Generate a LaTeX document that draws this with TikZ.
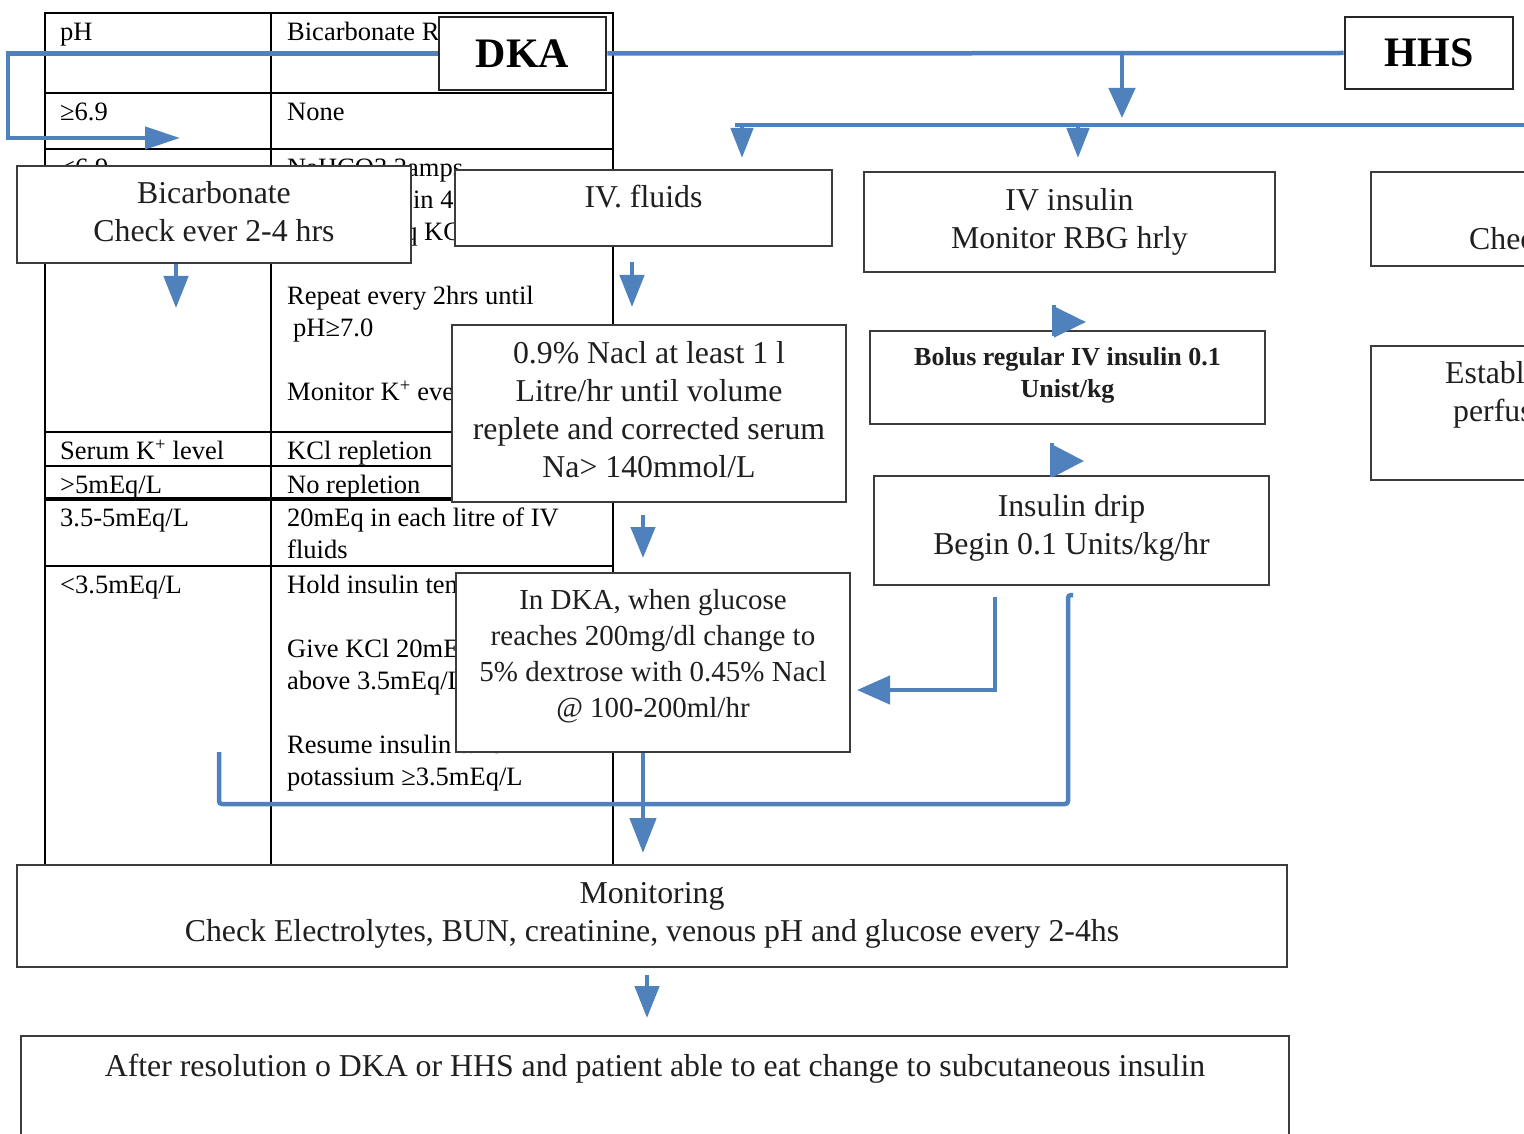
\documentclass[tikz,border=0pt]{standalone}
\usepackage{fontspec}
\setmainfont{Liberation Serif}
\usetikzlibrary{arrows.meta}
\definecolor{flowblue}{RGB}{79,129,189}
\definecolor{boxline}{RGB}{60,60,60}
\newcommand\lowend[1]{\rule[-#1]{0pt}{#1}}
\begin{document}
\begin{tikzpicture}[x=1pt, y=-1pt,
  grid/.style={line width=2.4pt, black},
  cell/.style={anchor=base west, inner sep=0pt, font=\fontsize{26.5}{32}\selectfont},
  box/.style={draw=boxline, line width=2pt, fill=white, inner sep=0pt, align=center,
    text=black!88, font=\fontsize{31.8}{38}\selectfont},
  rtext/.style={anchor=base west, inner sep=0pt, text=black!88, font=\fontsize{31.8}{38}\selectfont},
  title/.style={draw=black!85, line width=2.6pt, fill=white, inner sep=0pt,
    text height=27.8pt, text depth=0pt, font=\bfseries\fontsize{42}{48}\selectfont},
  flow/.style={draw=flowblue, line width=4.5pt},
  arrowhead/.style 2 args={-{Triangle[length=#1,width=#2]}}
]
\useasboundingbox (0,0) rectangle (1524,1134);
\clip (0,0) rectangle (1524,1134);
\fill[white] (0,0) rectangle (1524,1134);

% ---------- table of bicarbonate and potassium replacement ----------
\draw[grid] (45,866) -- (45,13) -- (613,13) -- (613,866);
\draw[grid] (271,13) -- (271,866);
\foreach \y in {93,149,432,466,566} \draw[grid] (45,\y) -- (613,\y);
\draw[grid, line width=3.4pt] (45,499) -- (613,499);

\node[cell] (ph)    at (60,40.5)  {pH};
\node[cell] (bicrep) at (287,40.5) {Bicarbonate Replacement};
\node[cell] (phhi)  at (60,120.5) {≥6.9};
\node[cell] (none)  at (287,120.5) {None};
\node[cell] (phlo)  at (60,176.5) {<6.9};
\node[cell] (na1)   at (287,176.5) {NaHCO3 2amps};
\node[cell] (na2)   at (287,208.5) {(100mmol) in 400ml H2O};
\node[cell] (na3)   at (287,240.5) {with 20mEq KCl};
\node[cell] (rep1)  at (287,304.5) {Repeat every 2hrs until};
\node[cell] (rep2)  at (293,336.5) {pH≥7.0};
\node[cell] (monk)  at (287,400.5) {Monitor K\textsuperscript{+} every 2hrs};
\node[cell] (serum) at (60,459.5)  {Serum K\textsuperscript{+} level};
\node[cell] (kcl)   at (287,459.5) {KCl repletion};
\node[cell] (khi)   at (60,493.5)  {>5mEq/L};
\node[cell] (norep) at (287,493.5) {No repletion};
\node[cell] (kmid)  at (60,526.5)  {3.5-5mEq/L};
\node[cell] (mid1)  at (287,526.5) {20mEq in each litre of IV};
\node[cell] (mid2)  at (287,558.5) {fluids};
\node[cell] (klo)   at (60,593.5)  {<3.5mEq/L};
\node[cell] (lo1)   at (287,593.5) {Hold insulin temporarily};
\node[cell] (lo2)   at (287,657.5) {Give KCl 20mEq/hr until};
\node[cell] (lo3)   at (287,689.5) {above 3.5mEq/L};
\node[cell] (lo4)   at (287,753.5) {Resume insulin when};
\node[cell] (lo5)   at (287,785.5) {potassium ≥3.5mEq/L};

% ---------- flowchart boxes ----------
\node[title, minimum width=167pt, minimum height=73pt] (dka) at (522.5,53.5) {DKA};
\node[title, minimum width=168pt, minimum height=72pt] (hhs) at (1429,53) {HHS};

\node[box, minimum width=394pt, minimum height=97pt] (bic) at (214,214.5)
  {\strut Bicarbonate\\\strut Check ever 2-4 hrs};
\node[box, minimum width=377pt, minimum height=76pt] (ivf) at (643.5,208)
  {\strut IV. fluids\lowend{26.6pt}};
\node[box, minimum width=411pt, minimum height=100pt] (ivins) at (1069.5,222)
  {\strut IV insulin\\\strut Monitor RBG hrly};
\node[box, minimum width=394pt, minimum height=177pt] (nacl) at (649,413.5)
  {\strut 0.9\% Nacl at least 1 l\\\strut Litre/hr until volume\\
   \strut replete and corrected serum\\\strut Na> 140mmol/L\lowend{13.6pt}};
\node[box, minimum width=395pt, minimum height=93pt, font=\bfseries\fontsize{26}{32}\selectfont]
  (bolus) at (1067.5,377.5)
  {\strut Bolus regular IV insulin 0.1\\\strut Unist/kg\lowend{14.2pt}};
\node[box, minimum width=395pt, minimum height=109pt] (drip) at (1071.5,530.5)
  {\strut Insulin drip\\\strut Begin 0.1 Units/kg/hr\lowend{17.6pt}};
\node[box, minimum width=394pt, minimum height=179pt, font=\fontsize{29}{36}\selectfont]
  (glu) at (653,662.5)
  {\strut In DKA, when glucose\\\strut reaches 200mg/dl change to\\
   \strut 5\% dextrose with 0.45\% Nacl\\\strut @ 100-200ml/hr\lowend{23.2pt}};
\node[box, minimum width=1270pt, minimum height=102pt] (mon) at (652,916)
  {\strut Monitoring\\\strut Check Electrolytes, BUN, creatinine, venous pH and glucose every 2-4hs\lowend{14.6pt}};
\node[box, minimum width=1268pt, minimum height=124pt] (after) at (655,1098)
  {\strut After resolution o DKA or HHS and patient able to eat change to subcutaneous insulin\lowend{70.6pt}};

% right-hand column, running past the edge
\node[box, minimum width=229pt, minimum height=94pt] (hhsA) at (1485.5,219) {};
\node[box, minimum width=229pt, minimum height=134pt] (hhsB) at (1485.5,413) {};
\node[rtext] (chk)  at (1469,250) {Check};
\node[rtext] (est)  at (1445,383) {Establish};
\node[rtext] (perf) at (1453,421) {perfusion};

% ---------- connectors ----------
\coordinate (bicin)   at (180,138);
\coordinate (split)   at (1122,53.5);
\coordinate (splitend) at (1122,118);
\coordinate (busL)    at (735,125);
\coordinate (busR)    at (1530,125);
\coordinate (tipF)    at (742,158);
\coordinate (tipI)    at (1078,158);
\coordinate (bicTip)  at (176,308);
\coordinate (ivfOut)  at (632,262);
\coordinate (ivfTip)  at (632,307);
\coordinate (naclOut) at (643,515);
\coordinate (naclTip) at (643,558);
\coordinate (gluTip)  at (643,853);
\coordinate (monOut)  at (647,975);
\coordinate (monTip)  at (647,1018);
\coordinate (bolTop)  at (1054,305);
\coordinate (bolBot)  at (1054,336);
\coordinate (bolMid)  at (1054,322);
\coordinate (bolTip)  at (1086,322);
\coordinate (drTop)   at (1052,443);
\coordinate (drBot)   at (1052,477);
\coordinate (drMid)   at (1052,461);
\coordinate (drTip)   at (1084,461);
\coordinate (dripA)   at (995,597);
\coordinate (gluIn)   at (857,690);
\coordinate (dripB)   at (1068,595);
\coordinate (kEnd)    at (219,752);

\draw[flow, arrowhead={35pt}{22pt}] (dka.west) -- (8,53.5) -- (8,138) -- (bicin);
\draw[flow] (dka.east) -- (hhs.west);
\draw[flow, arrowhead={30pt}{26pt}] (split) -- (splitend);
\draw[flow] (busL) -- (busR);
\draw[flow, arrowhead={30pt}{22pt}] (tipF |- busL) -- (tipF);
\draw[flow, arrowhead={30pt}{22pt}] (tipI |- busL) -- (tipI);
\draw[flow, arrowhead={32pt}{24pt}] (bicTip |- bic.south) -- (bicTip);
\draw[flow, arrowhead={32pt}{24pt}] (ivfOut) -- (ivfTip);
\draw[flow, arrowhead={31pt}{24pt}] (naclOut) -- (naclTip);
\draw[flow, arrowhead={35pt}{26pt}] (gluTip |- glu.south) -- (gluTip);
\draw[flow, arrowhead={32pt}{24pt}] (monOut) -- (monTip);
\draw[flow] (bolTop) -- (bolBot);
\draw[flow, arrowhead={32pt}{30pt}] (bolMid) -- (bolTip);
\draw[flow] (drTop) -- (drBot);
\draw[flow, arrowhead={32pt}{32pt}] (drMid) -- (drTip);
\draw[flow, arrowhead={33pt}{28pt}] (dripA) -- (dripA |- gluIn) -- (gluIn);
\draw[flow, rounded corners=3pt] ([xshift=5pt]dripB) -- (dripB) -- (1068,804) -- (219,804) -- (kEnd);
\end{tikzpicture}
\end{document}
